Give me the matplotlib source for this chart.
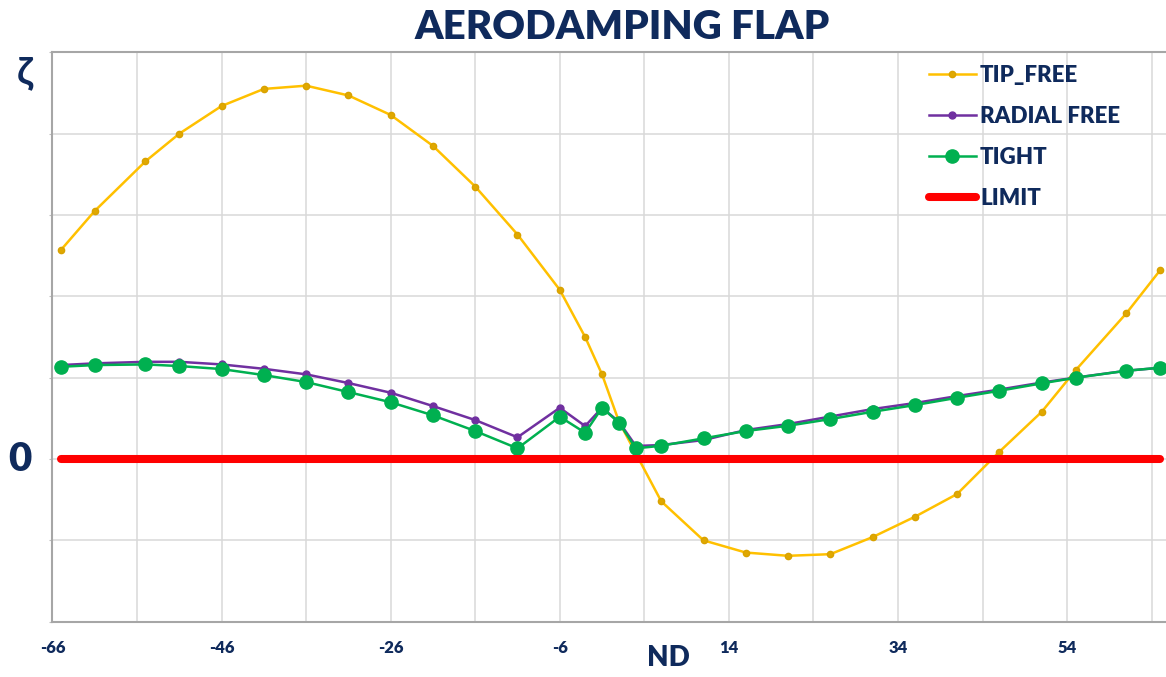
import matplotlib
matplotlib.use("Agg")
import matplotlib.pyplot as plt
from matplotlib.ticker import FixedLocator, FixedFormatter

# Nodal diameters and damping curves
nd_tip = [-65, -61, -55, -51, -46, -41, -36, -31, -26, -21, -16, -11, -6, -3, -1, 1,
          6, 11, 16, 21, 26, 31, 36, 41, 46, 51, 55, 61, 65]
tip_free = [2.57, 3.05, 3.66, 4.00, 4.34, 4.55, 4.59, 4.47, 4.23, 3.85, 3.35, 2.76, 2.08,
            1.50, 1.04, 0.46, -0.52, -1.00, -1.15, -1.19, -1.17, -0.96, -0.71, -0.43,
            0.09, 0.58, 1.09, 1.79, 2.32]

nd = [-65, -61, -55, -51, -46, -41, -36, -31, -26, -21, -16, -11, -6, -3, -1, 1, 3,
      6, 11, 16, 21, 26, 31, 36, 41, 46, 51, 55, 61, 65]
radial_free = [1.155, 1.176, 1.195, 1.195, 1.163, 1.109, 1.041, 0.934, 0.815, 0.651,
               0.479, 0.267, 0.630, 0.405, 0.630, 0.458, 0.160, 0.172, 0.233, 0.356,
               0.430, 0.522, 0.614, 0.688, 0.774, 0.854, 0.940, 1.001, 1.085, 1.122]
tight = [1.134, 1.155, 1.163, 1.143, 1.106, 1.032, 0.946, 0.823, 0.698, 0.537, 0.344,
         0.131, 0.520, 0.323, 0.630, 0.446, 0.131, 0.163, 0.254, 0.344, 0.409, 0.491,
         0.581, 0.663, 0.753, 0.839, 0.930, 0.999, 1.085, 1.122]

limit_nd = [-65, 65]
limit = [0, 0]

x_tick_values = [-66, -46, -26, -6, 14, 34, 54]
x_grid_values = [-66, -56, -46, -36, -26, -16, -6, 4, 14, 24, 34, 44, 54, 64]
y_grid_values = [-2, -1, 0, 1, 2, 3, 4, 5]
y_tick_labels = ["", "", "0", "", "", "", "", ""]

plt.rcParams["axes.unicode_minus"] = False

NAVY = "#0F2A5C"
FONT = ["Lato", "DejaVu Sans"]

fig = plt.figure(figsize=(11.66, 6.77), dpi=100)
ax = fig.add_axes([0.045, 0.0817, 0.955, 0.841])

ax.plot(nd_tip, tip_free, color="#FFC000", lw=1.8, marker="o", ms=4.5,
        mfc="#E0A800", mec="#D9A200", label="TIP_FREE", zorder=3)
ax.plot(nd, radial_free, color="#7030A0", lw=1.8, marker="o", ms=5,
        mfc="#7030A0", mec="#7030A0", label="RADIAL FREE", zorder=4)
ax.plot(nd, tight, color="#00B050", lw=1.8, marker="o", ms=9.5,
        mfc="#00B050", mec="#00B050", label="TIGHT", zorder=5)
ax.plot(limit_nd, limit, color="#FF0000", lw=5.8, solid_capstyle="round",
        label="LIMIT", zorder=6)

ax.set_xlim(-66, 65.7)
ax.set_ylim(-2, 5)

ax.xaxis.set_major_locator(FixedLocator(x_tick_values))
ax.xaxis.set_minor_locator(FixedLocator(x_grid_values))
ax.yaxis.set_major_locator(FixedLocator(y_grid_values))
ax.yaxis.set_major_formatter(FixedFormatter(y_tick_labels))

ax.grid(True, which="both", axis="x", color="#D9D9D9", lw=1.1, zorder=0)
ax.grid(True, which="major", axis="y", color="#D9D9D9", lw=1.1, zorder=0)
ax.set_axisbelow(True)

ax.tick_params(axis="x", which="both", length=0, pad=13)
ax.tick_params(axis="y", which="both", length=2, color="#BFBFBF", pad=13)
for lbl in ax.get_xticklabels():
    lbl.set_fontfamily(FONT)
    lbl.set_fontweight("heavy")
    lbl.set_fontsize(12)
    lbl.set_color(NAVY)
for lbl in ax.get_yticklabels():
    lbl.set_fontfamily(FONT)
    lbl.set_fontweight("heavy")
    lbl.set_fontsize(29)
    lbl.set_color(NAVY)
    lbl.set_verticalalignment("center")

for side in ("left", "bottom", "top"):
    ax.spines[side].set_color("#A6A6A6")
    ax.spines[side].set_linewidth(1.5)
ax.spines["right"].set_visible(False)

fig.text(0.534, 0.960, "AERODAMPING FLAP", ha="center", va="center",
         fontsize=29, fontweight="heavy", color=NAVY, family=FONT)
fig.text(0.573, 0.028, "ND", ha="center", va="center",
         fontsize=20, fontweight="heavy", color=NAVY, family=FONT)
fig.text(0.0214, 0.892, "ζ", ha="center", va="center",
         fontsize=28, fontweight="bold", color=NAVY, family=FONT)

leg = ax.legend(loc="upper left", bbox_to_anchor=(929 / 1166, 1 - 65 / 677),
                bbox_transform=fig.transFigure, frameon=False, borderpad=0,
                borderaxespad=0, handlelength=2.1, handletextpad=0.2,
                labelspacing=0.9, prop={"family": FONT, "weight": "heavy", "size": 16})
for t in leg.get_texts():
    t.set_color(NAVY)

fig.savefig("out.png", dpi=100)
